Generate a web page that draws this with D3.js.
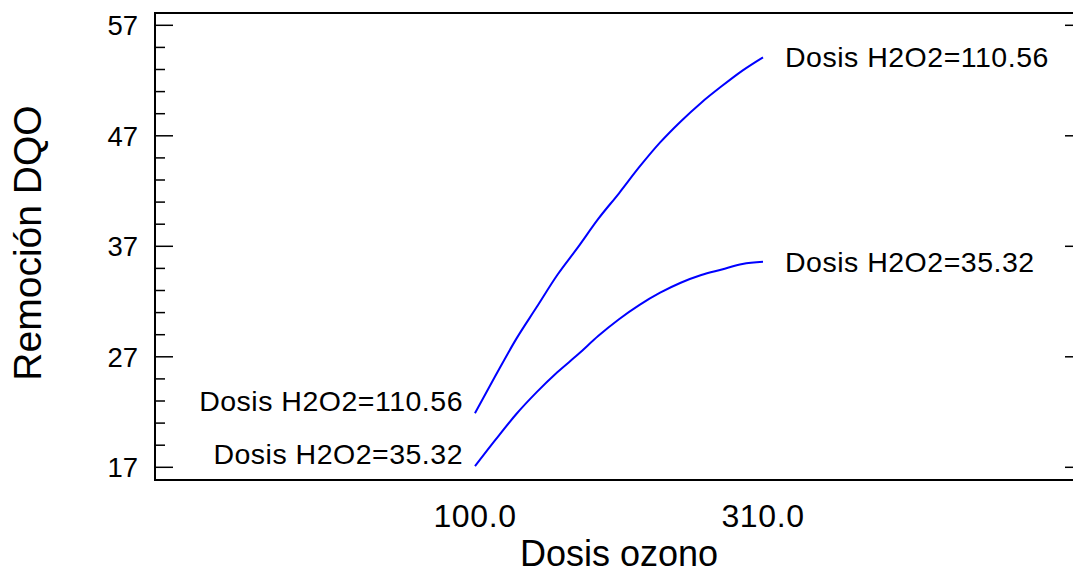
<!DOCTYPE html>
<html>
<head>
<meta charset="utf-8">
<script src="https://cdn.jsdelivr.net/npm/d3@7"></script>
<style>
  body { margin: 0; background: #fff; }
  text { font-family: "Liberation Sans", Arial, sans-serif; fill: #000; }
</style>
</head>
<body>
<svg id="chart" width="1073" height="575"></svg>
<script>
// dosis ozono (x) and remocion DQO for two H2O2 doses
const ozono = [100, 115, 130, 145, 160, 175, 190, 205, 220, 235, 250, 265, 280, 295, 310];
const remocionAlta = [21.9, 25.3, 28.6, 31.5, 34.4, 36.9, 39.5, 41.8, 44.2, 46.4, 48.3, 50.0, 51.5, 52.9, 54.1];
const remocionBaja = [17.1, 19.5, 21.8, 23.8, 25.6, 27.2, 28.9, 30.4, 31.7, 32.8, 33.7, 34.4, 34.9, 35.4, 35.6];
const seriesLabels = ["Dosis H2O2=110.56", "Dosis H2O2=35.32"];
const yMajor = [17, 27, 37, 47, 57];
const xTickValues = [100, 310];

const margin = { top: 13, right: 0, bottom: 95, left: 155 };
const width = 1073, height = 575;

const svg = d3.select("#chart");

// 100 -> 475px, 310 -> 763px
const x = d3.scaleLinear()
  .domain([100 - 320 / (288 / 210), 310 + 310 / (288 / 210)])
  .range([margin.left, width - margin.right]);

const y = d3.scaleLinear()
  .domain([17 - 12.7 / 11.05, 57 + 12.3 / 11.05])
  .range([height - margin.bottom, margin.top]);

// frame
svg.append("rect")
  .attr("x", margin.left)
  .attr("y", margin.top)
  .attr("width", width - margin.left + 5)
  .attr("height", height - margin.bottom - margin.top)
  .attr("fill", "none")
  .attr("stroke", "#000")
  .attr("stroke-width", 2);

// left ticks (major + minor), inward
const yMinor = d3.range(17, 58, 2);
svg.append("g").selectAll("line")
  .data(yMinor)
  .join("line")
  .attr("x1", margin.left)
  .attr("x2", d => margin.left + (yMajor.includes(d) ? 18 : 10))
  .attr("y1", d => y(d))
  .attr("y2", d => y(d))
  .attr("stroke", "#000")
  .attr("stroke-width", 1.5);

// right ticks, major only
svg.append("g").selectAll("line")
  .data(yMajor)
  .join("line")
  .attr("x1", width - 8)
  .attr("x2", width)
  .attr("y1", d => y(d))
  .attr("y2", d => y(d))
  .attr("stroke", "#000")
  .attr("stroke-width", 1.5);

svg.append("g").selectAll("text")
  .data(yMajor)
  .join("text")
  .attr("x", 138)
  .attr("y", d => y(d) + 10)
  .attr("text-anchor", "end")
  .attr("font-size", 27.5)
  .text(d => d);

svg.append("g").selectAll("text")
  .data(xTickValues)
  .join("text")
  .attr("x", d => x(d))
  .attr("y", 527)
  .attr("text-anchor", "middle")
  .attr("font-size", 32)
  .attr("letter-spacing", 0.6)
  .text(d => d.toFixed(1));

// axis titles
svg.append("text")
  .attr("x", 619)
  .attr("y", 566)
  .attr("text-anchor", "middle")
  .attr("font-size", 36)
  .text("Dosis ozono");

svg.append("text")
  .attr("transform", `translate(41, 243) rotate(-90)`)
  .attr("text-anchor", "middle")
  .attr("font-size", 39)
  .text("Remoción DQO");

// curves
const line = d3.line()
  .x((d, i) => x(ozono[i]))
  .y(d => y(d))
  .curve(d3.curveMonotoneX);

const series = [remocionAlta, remocionBaja];

svg.append("g").selectAll("path")
  .data(series)
  .join("path")
  .attr("d", line)
  .attr("fill", "none")
  .attr("stroke", "#0000ff")
  .attr("stroke-width", 2);

// start labels (left of first point) and end labels (right of last point)
svg.append("g").selectAll("text")
  .data(series)
  .join("text")
  .attr("x", x(ozono[0]) - 12)
  .attr("y", d => y(d[0]) - 2)
  .attr("text-anchor", "end")
  .attr("font-size", 28.5)
  .attr("letter-spacing", 0.5)
  .text((d, i) => seriesLabels[i]);

svg.append("g").selectAll("text")
  .data(series)
  .join("text")
  .attr("x", x(ozono[ozono.length - 1]) + 22)
  .attr("y", d => y(d[d.length - 1]) + 10)
  .attr("font-size", 28.5)
  .attr("letter-spacing", 0.5)
  .text((d, i) => seriesLabels[i]);
</script>
</body>
</html>
